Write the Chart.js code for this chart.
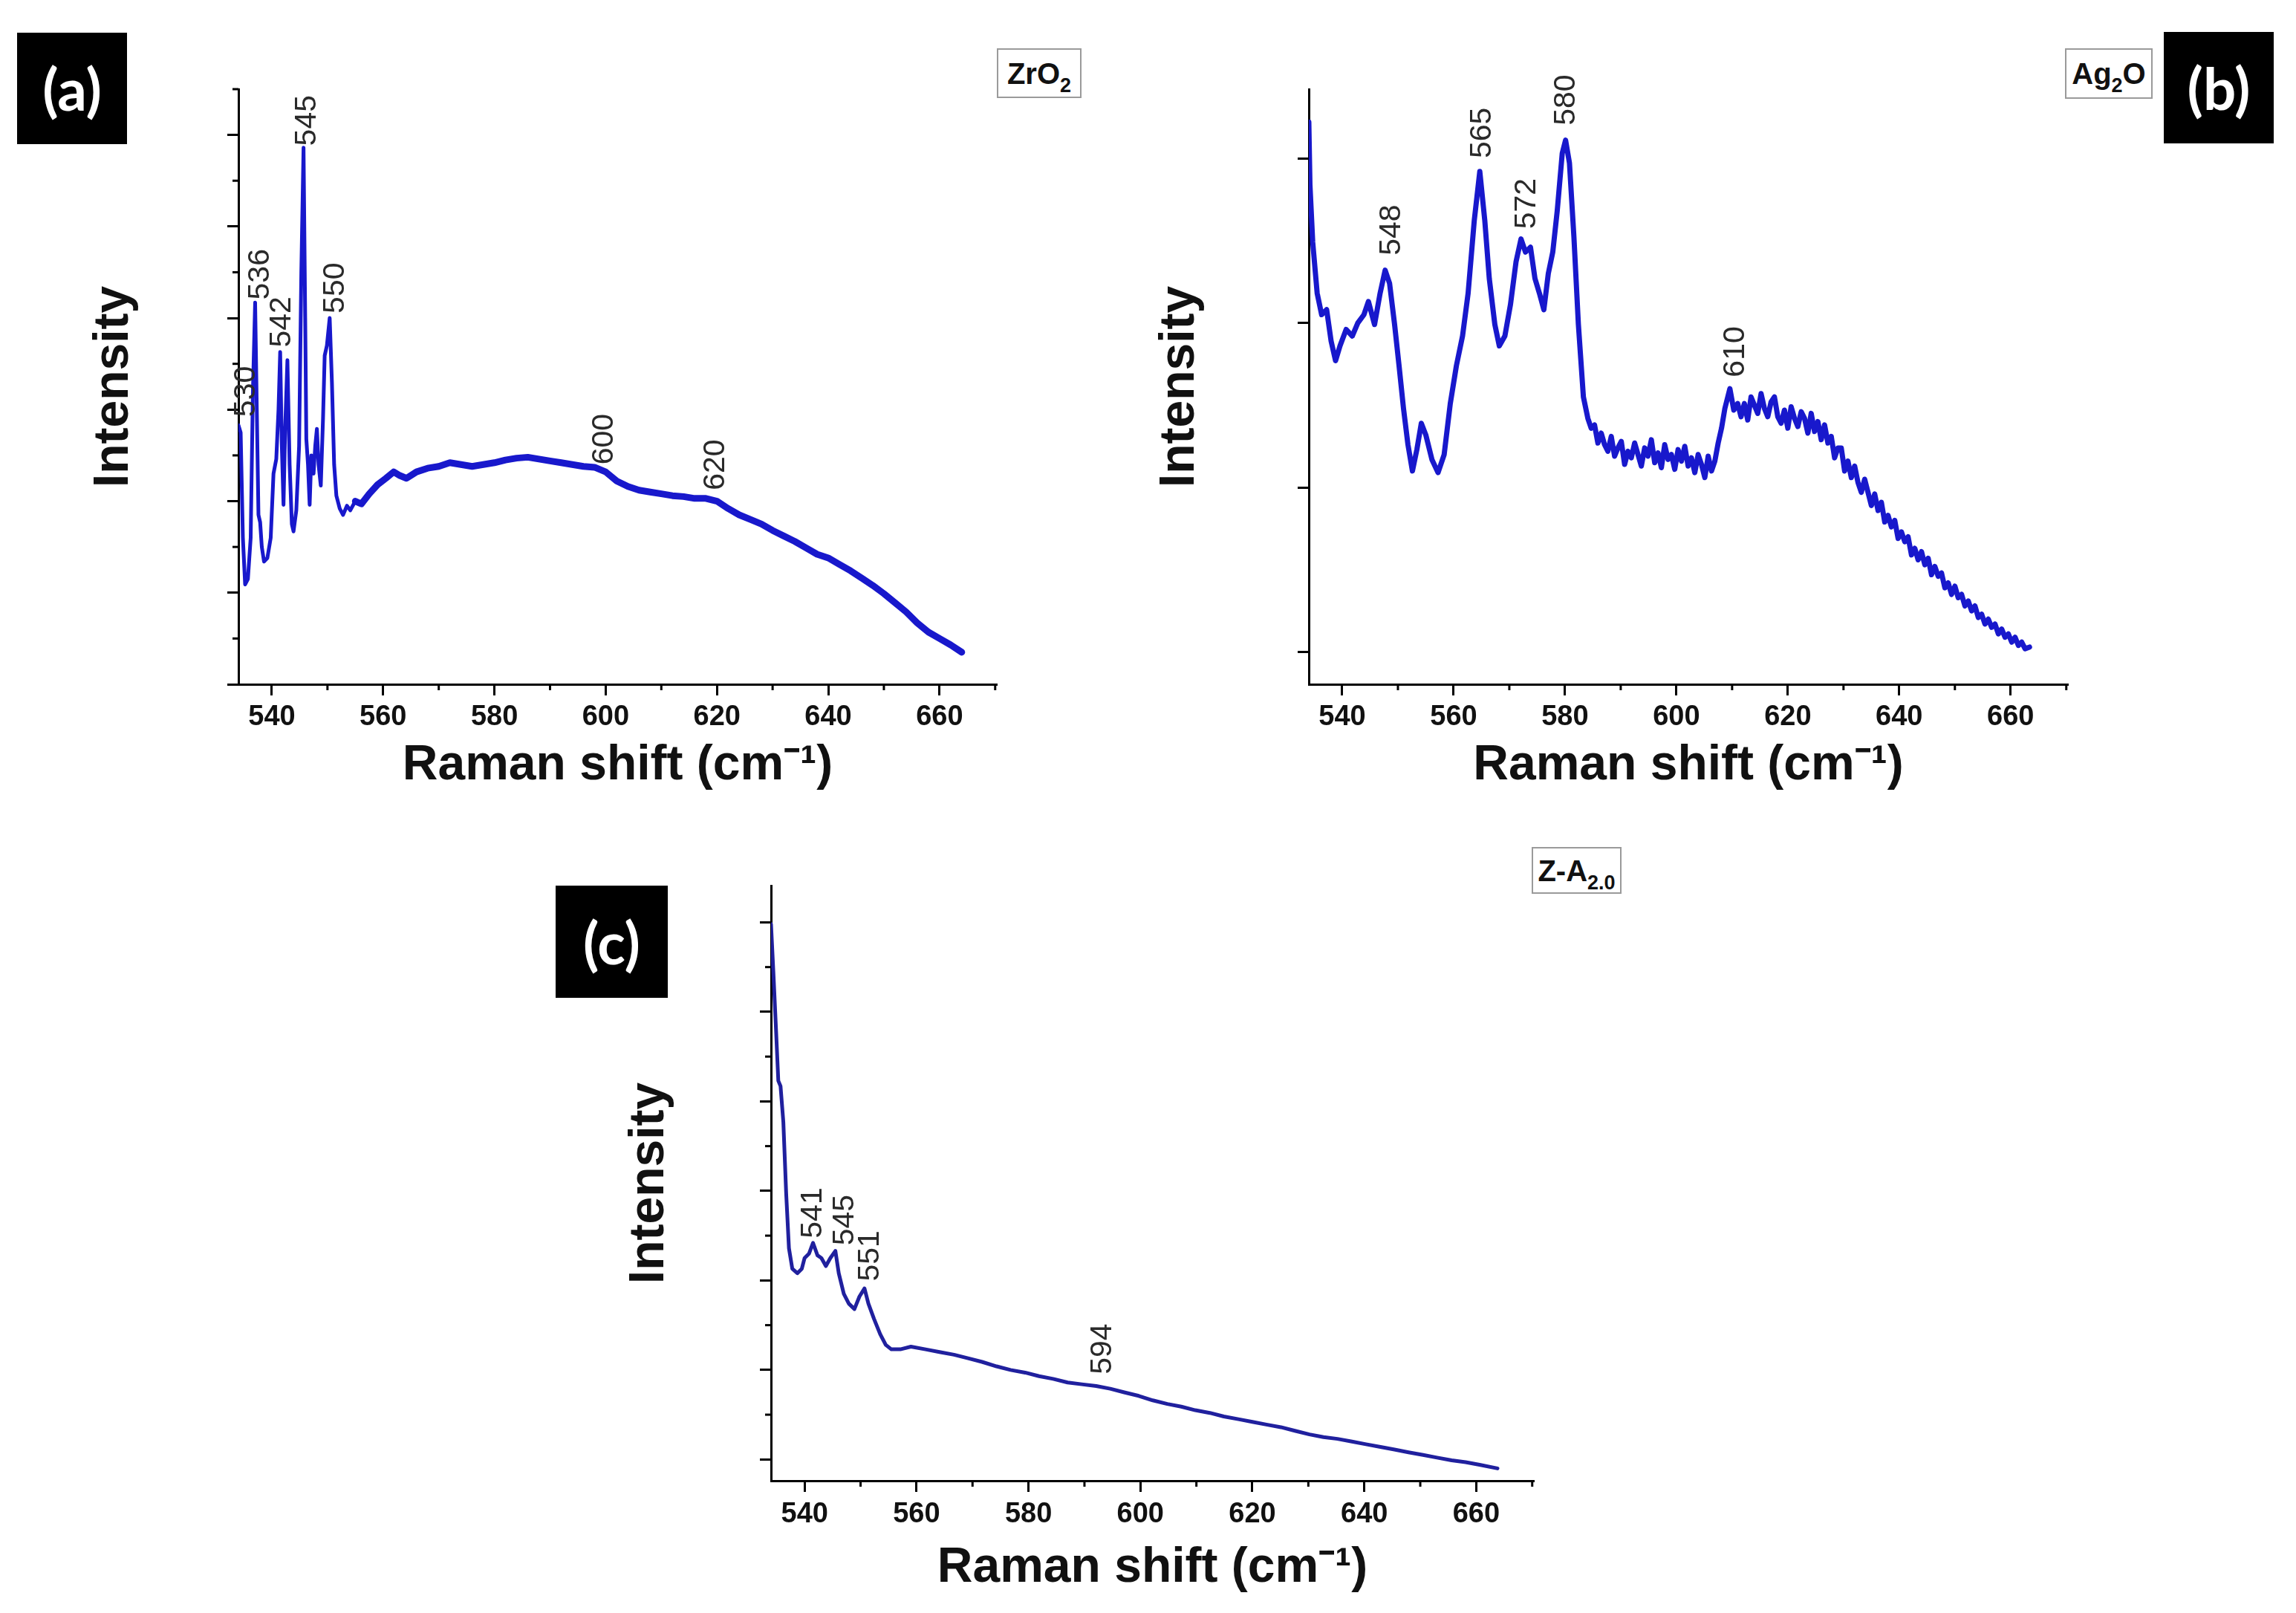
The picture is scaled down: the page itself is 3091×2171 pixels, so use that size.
<!DOCTYPE html>
<html><head><meta charset="utf-8">
<script src="https://cdn.jsdelivr.net/npm/chart.js@4.4.0/dist/chart.umd.min.js"></script>
<style>
html,body{margin:0;padding:0;background:#fff;}
body{width:3091px;height:2171px;position:relative;overflow:hidden;}
canvas{position:absolute;left:0;top:0;}
.tag{position:absolute;background:#000;color:#fff;font-family:Lato,'Open Sans',sans-serif;font-weight:700;font-size:78px;display:flex;align-items:center;justify-content:center;line-height:1;}
.leg{position:absolute;border:2px solid #9a9a9a;background:#fff;box-sizing:border-box;font-family:'Liberation Sans',Arial,sans-serif;font-weight:700;font-size:40px;color:#111;display:flex;align-items:center;justify-content:center;line-height:1;}
.leg .s{font-size:27px;position:relative;top:11px;}
</style></head><body>
<canvas id="ca" width="3091" height="2171"></canvas>
<canvas id="cb" width="3091" height="2171"></canvas>
<canvas id="cc" width="3091" height="2171"></canvas>
<div class="tag" style="left:23px;top:44px;width:148px;height:150px;">(a)</div>
<div class="tag" style="left:2913px;top:43px;width:148px;height:150px;">(b)</div>
<div class="tag" style="left:748px;top:1192px;width:151px;height:151px;">(c)</div>
<div class="leg" style="left:1342px;top:65px;width:114px;height:67px;"><span>ZrO<span class="s">2</span></span></div>
<div class="leg" style="left:2780px;top:65px;width:118px;height:68px;"><span>Ag<span class="s">2</span>O</span></div>
<div class="leg" style="left:2062px;top:1140px;width:121px;height:63px;"><span>Z-A<span class="s">2.0</span></span></div>
<script>
// ---------- DATA ----------
const xTicksMajor = [540, 560, 580, 600, 620, 640, 660];
const xTicksMinor = [550, 570, 590, 610, 630, 650, 670];

// (a) ZrO2
const xA = [534.0,534.4,534.8,535.2,535.7,536.2,536.6,537.0,537.3,537.6,537.9,538.2,538.6,539.2,539.8,540.3,540.8,541.2,541.5,541.8,542.1,542.4,542.8,543.2,543.6,543.9,544.4,544.9,545.3,545.7,546.0,546.2,546.5,546.8,547.1,547.5,547.8,548.1,548.4,548.8,549.2,549.5,549.9,550.4,550.8,551.2,551.6,552.2,552.8,553.5,554.1,555.0,556.1,557.5,559.0,560.5,561.9,563.0,564.2,566.0,568.0,570.0,572.0,574.0,576.0,578.0,580.0,582.0,584.0,586.0,588.0,590.0,592.0,594.0,596.0,598.0,600.0,602.0,604.0,606.0,608.0,610.0,612.0,614.0,616.0,618.0,620.0,622.0,624.0,626.0,628.0,630.0,632.0,634.0,636.0,638.0,640.0,642.0,644.0,646.0,648.0,650.0,652.0,654.0,656.0,658.0,660.0,662.0,664.0];
const yA = [2.83,2.75,1.6,1.09,1.15,1.6,3.2,4.17,3.0,1.85,1.77,1.5,1.34,1.38,1.6,2.3,2.46,3.0,3.63,2.6,1.96,2.8,3.54,2.4,1.75,1.67,1.9,2.6,4.5,5.86,4.0,2.68,2.4,1.96,2.5,2.3,2.6,2.79,2.4,2.17,2.9,3.59,3.7,4.0,3.3,2.4,2.06,1.92,1.85,1.95,1.9,2.0,1.97,2.08,2.18,2.25,2.32,2.28,2.25,2.32,2.36,2.38,2.42,2.4,2.38,2.4,2.42,2.45,2.47,2.48,2.46,2.44,2.42,2.4,2.38,2.37,2.32,2.22,2.16,2.12,2.1,2.08,2.06,2.05,2.03,2.03,2.0,1.92,1.85,1.8,1.75,1.68,1.62,1.56,1.49,1.42,1.38,1.31,1.24,1.16,1.08,0.99,0.89,0.79,0.67,0.57,0.5,0.43,0.35];
const peaksA = ['530','536','542','545','550','600','620'];
const peakXA = [535.4,538.0,541.9,546.4,551.4,599.8,619.8];
const peakYA = [2.92,4.2,3.68,5.88,4.05,2.4,2.12];

// (b) Ag2O
const xB = [534.0,534.2,534.7,535.5,536.3,537.2,538.0,538.8,539.6,540.7,541.8,542.8,543.9,544.7,545.8,546.8,547.7,548.5,549.4,550.2,551.0,551.8,552.6,553.4,554.2,555.0,556.1,557.2,558.3,559.4,560.5,561.6,562.6,563.7,564.7,565.6,566.4,567.4,568.2,569.2,570.2,571.2,572.1,572.9,573.8,574.6,575.4,576.2,577.0,577.8,578.6,579.5,580.1,580.8,581.6,582.4,583.3,
  584.1,584.7,585.3,585.9,586.5,587.1,587.7,588.3,588.9,589.5,590.1,590.7,591.3,591.9,592.5,593.1,593.7,594.3,594.9,595.5,596.1,596.7,597.3,597.9,598.5,599.1,599.7,600.3,600.9,601.5,602.1,602.7,603.3,603.9,604.5,605.1,605.7,606.3,606.9,607.5,608.1,608.7,609.6,610.3,
  611.0,611.6,612.2,612.8,613.4,614.0,614.6,615.2,615.8,616.4,617.0,617.6,618.2,618.8,619.4,620.0,620.6,621.2,621.8,622.4,623.0,623.6,624.2,624.8,625.4,626.0,626.6,627.2,627.8,628.4,629.0,629.6,630.2,630.8,631.4,632.0,632.6,633.2,633.8,634.4,635.0,635.6,636.2,636.8,637.4,638.0,638.6,639.2,639.8,640.4,641.0,641.6,642.2,642.8,643.4,644.0,644.6,645.2,645.8,646.4,647.0,647.6,648.2,648.8,649.4,650.0,650.6,651.2,651.8,652.4,653.0,653.6,654.2,654.8,655.4,656.0,656.6,657.2,657.8,658.4,659.0,659.6,660.2,660.8,661.4,662.0,662.6,663.4];
const yB = [3.22,2.84,2.49,2.18,2.05,2.08,1.89,1.77,1.86,1.96,1.92,2.0,2.05,2.13,1.99,2.18,2.32,2.24,1.99,1.74,1.48,1.26,1.1,1.23,1.39,1.32,1.17,1.09,1.2,1.51,1.74,1.92,2.18,2.62,2.92,2.62,2.27,1.99,1.86,1.92,2.11,2.37,2.51,2.43,2.46,2.27,2.18,2.08,2.3,2.43,2.68,3.03,3.11,2.97,2.52,1.99,1.55,
  1.42,1.36,1.38,1.27,1.33,1.26,1.22,1.31,1.19,1.24,1.28,1.14,1.22,1.18,1.27,1.20,1.13,1.24,1.19,1.29,1.15,1.21,1.12,1.26,1.17,1.20,1.11,1.23,1.16,1.25,1.13,1.18,1.09,1.20,1.14,1.06,1.19,1.10,1.16,1.27,1.36,1.48,1.60,1.47,
  1.51,1.43,1.51,1.41,1.55,1.50,1.45,1.57,1.48,1.43,1.52,1.55,1.43,1.39,1.47,1.36,1.49,1.42,1.37,1.46,1.42,1.33,1.45,1.34,1.40,1.29,1.38,1.27,1.31,1.18,1.24,1.24,1.10,1.16,1.06,1.13,1.03,0.97,1.05,0.97,0.89,0.96,0.86,0.91,0.79,0.83,0.76,0.80,0.69,0.73,0.67,0.70,0.59,0.63,0.56,0.61,0.53,0.57,0.47,0.52,0.46,0.48,0.39,0.42,0.35,0.40,0.33,0.35,0.28,0.31,0.25,0.28,0.21,0.23,0.17,0.20,0.15,0.17,0.11,0.14,0.09,0.11,0.06,0.09,0.04,0.06,0.02,0.03];
const peaksB = ['548','565','572','580','610'];
const peakXB = [548.9,565.1,573.2,580.3,610.6];
const peakYB = [2.41,3.0,2.57,3.2,1.67];

// (c) Z-A2.0
const xC = [534.0,534.4,534.9,535.3,535.7,536.2,536.7,537.2,537.8,538.7,539.5,540.0,540.8,541.5,542.3,543.0,543.8,544.6,545.5,546.1,547.0,547.9,548.9,549.8,550.7,551.4,552.4,553.5,554.5,555.5,557.1,559.0,561.6,564.1,566.7,569.2,571.7,574.3,576.8,579.4,581.9,584.4,587.0,589.5,592.1,594.6,597.1,599.7,602.2,604.8,607.3,609.8,612.4,614.9,617.5,620.0,622.5,625.1,627.6,630.2,632.7,635.2,637.8,640.3,642.9,645.4,647.9,650.5,653.0,655.6,658.1,660.6,663.8];
const yC = [5.98,5.47,4.79,4.23,4.17,3.77,2.98,2.36,2.13,2.08,2.13,2.25,2.3,2.42,2.28,2.25,2.16,2.25,2.33,2.08,1.85,1.74,1.68,1.82,1.91,1.74,1.57,1.4,1.28,1.23,1.23,1.26,1.23,1.2,1.17,1.13,1.09,1.04,1.0,0.97,0.93,0.9,0.86,0.84,0.82,0.79,0.75,0.71,0.66,0.62,0.59,0.55,0.52,0.48,0.45,0.42,0.39,0.36,0.32,0.28,0.25,0.23,0.2,0.17,0.14,0.11,0.08,0.05,0.02,-0.01,-0.03,-0.06,-0.1];
const peaksC = ['541','545','551','594'];
const peakXC = [541.5,547.2,551.7,593.3];
const peakYC = [2.47,2.39,1.99,0.95];

// ---------- CHARTS ----------
Chart.defaults.font.family = "'Liberation Sans', Arial, sans-serif";
Chart.defaults.color = '#111';

const decor = {
  id: 'decor',
  afterDatasetsDraw(chart, args, o) {
    const {ctx, chartArea} = chart;
    const sx = chart.scales.x, sy = chart.scales.y;
    ctx.save();
    ctx.strokeStyle = '#000'; ctx.lineWidth = 3;
    o.minorX.forEach(v => { const p = sx.getPixelForValue(v); ctx.beginPath(); ctx.moveTo(p, chartArea.bottom); ctx.lineTo(p, chartArea.bottom + 8); ctx.stroke(); });
    o.minorY.forEach(v => { const p = sy.getPixelForValue(v); ctx.beginPath(); ctx.moveTo(chartArea.left, p); ctx.lineTo(chartArea.left - 8, p); ctx.stroke(); });
    ctx.fillStyle = '#2a2a2a';
    ctx.font = "41px 'Liberation Sans', Arial, sans-serif";
    ctx.textAlign = 'left'; ctx.textBaseline = 'middle';
    o.labels.forEach((t, i) => {
      const px = sx.getPixelForValue(o.lx[i]), py = sy.getPixelForValue(o.ly[i]);
      ctx.save(); ctx.translate(px, py); ctx.rotate(-Math.PI / 2); ctx.fillText(t, 0, 0); ctx.restore();
    });
    ctx.restore();
  }
};

function panel(id, xs, ys, color, lw, yMin, yMax, minorY, labels, lx, ly, box) {
  const titleFont = {size: 66, weight: 'bold', lineHeight: 1};
  new Chart(document.getElementById(id), {
    type: 'line',
    data: {datasets: [{data: xs.map((x, i) => ({x: x, y: ys[i]})), borderColor: color, borderWidth: lw, pointRadius: 0, tension: 0, fill: false, borderJoinStyle: 'round', borderCapStyle: 'round',
      segment: {borderWidth: c => (c.p0.parsed.x >= box.thickFrom ? box.thickW : lw)}}]},
    options: {
      responsive: false, animation: false, events: [],
      layout: {padding: {left: box.L0, top: box.top, right: 3091 - box.right, bottom: 2171 - box.B0}},
      plugins: {legend: {display: false}, tooltip: {enabled: false},
        decor: {minorX: xTicksMinor, minorY: minorY, labels: labels, lx: lx, ly: ly}},
      scales: {
        x: {type: 'linear', min: 534, max: 670.3,
          afterFit: s => { s.height = box.B0 - box.bottom; },
          ticks: {stepSize: 20, includeBounds: false, padding: box.tp, font: {size: 38, weight: 'bold', lineHeight: 1}, color: '#111',
            callback: v => xTicksMajor.includes(v) ? String(v) : ''},
          grid: {drawOnChartArea: false, tickLength: 15, tickWidth: 3, tickColor: '#000'},
          border: {color: '#000', width: 3},
          title: {display: true, text: 'Raman shift (cm\u207B\u00B9)', font: titleFont, color: '#111', padding: 0}},
        y: {type: 'linear', min: yMin, max: yMax,
          afterFit: s => { s.width = box.left - box.L0; },
          ticks: {stepSize: 1, includeBounds: false, display: false},
          grid: {drawOnChartArea: false, tickLength: 15, tickWidth: 3, tickColor: '#000'},
          border: {color: '#000', width: 3},
          title: {display: true, text: 'Intensity', font: titleFont, color: '#111', padding: 0}}
      }
    },
    plugins: [decor]
  });
}

panel('ca', xA, yA, '#1818cc', 5, 0, 6.5, [0.5,1.5,2.5,3.5,4.5,5.5,6.5], peaksA, peakXA, peakYA,
  {L0: 121, left: 321, top: 120, right: 1342, bottom: 921, B0: 1064, tp: 11, thickFrom: 555, thickW: 9});
panel('cb', xB, yB, '#1818cc', 7, -0.196, 3.42, [], peaksB, peakXB, peakYB,
  {L0: 1556, left: 1762, top: 120, right: 2784, bottom: 921, B0: 1064, tp: 11, thickFrom: 999, thickW: 7});
panel('cc', xC, yC, '#20209e', 5, -0.238, 6.41, [0.5,1.5,2.5,3.5,4.5,5.5], peaksC, peakXC, peakYC,
  {L0: 842, left: 1038, top: 1192, right: 2065, bottom: 1993, B0: 2144, tp: 12, thickFrom: 999, thickW: 5});
</script>
</body></html>
